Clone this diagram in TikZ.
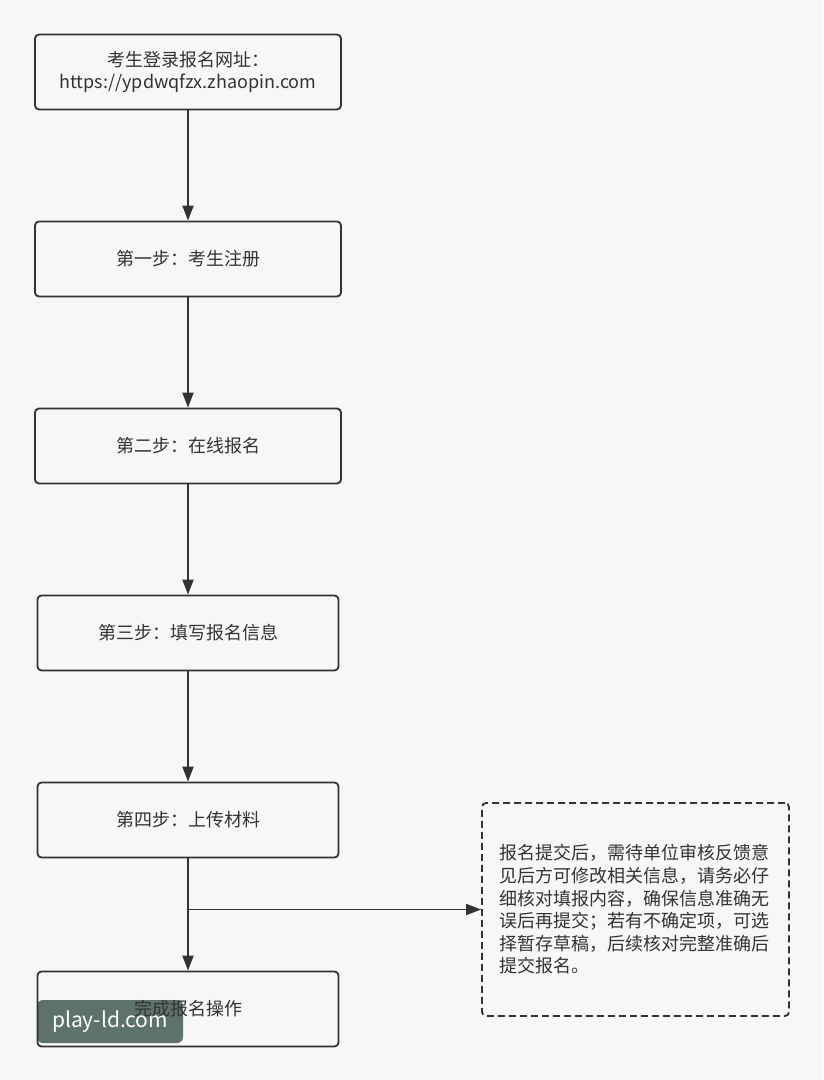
\documentclass[tikz,border=0pt]{standalone}
\usepackage{fontspec}
\setmainfont{Noto Sans CJK SC}
\usetikzlibrary{arrows.meta}
\definecolor{paper}{HTML}{F7F7F7}
\definecolor{ink}{HTML}{333333}
\definecolor{markgreen}{HTML}{5D7268}
\tikzset{
  stepbox/.style={draw=ink, line width=1.8pt, rounded corners=4pt, fill=paper,
    minimum width=306pt, minimum height=75pt, inner sep=0pt, align=center,
    text=ink, font=\fontsize{18}{22}\selectfont},
  notebox/.style={draw=ink, line width=1.8pt, dash pattern=on 7pt off 4pt,
    rounded corners=4pt, fill=paper, minimum width=307pt, minimum height=213pt,
    inner sep=0pt, text width=272pt, align=left, text=ink,
    font=\fontsize{18}{22.6}\selectfont},
  flow/.style={draw=ink, line width=1.8pt, -{Triangle[length=15pt,width=11pt]}},
  wmark/.style={fill=markgreen, rounded corners=6pt, minimum width=146pt,
    minimum height=43pt, inner sep=0pt, text=white, font=\fontsize{21}{24}\selectfont}
}
\begin{document}
\begin{tikzpicture}[x=1pt,y=-1pt]
      \fill[paper] (0,0) rectangle (823,1080);
      \node[stepbox] (0) at (188,72) {考生登录报名网址：\\https://ypdwqfzx.zhaopin.com};
      \node[stepbox] (1) at (188,259) {第一步：考生注册};
      \node[stepbox] (2) at (188,446) {第二步：在线报名};
      \node[stepbox, minimum width=301pt] (3) at (188,633) {第三步：填写报名信息};
      \node[stepbox, minimum width=301pt] (4) at (188,820) {第四步：上传材料};
      \node[wmark] (wm) at (110,1021.5) {play-ld.com};
      \node[stepbox, minimum width=301pt, fill=none] (5) at (188,1009) {完成报名操作};
      \node[notebox] (note) at (635.5,909.5) {报名提交后，需待单位审核反馈意\\见后方可修改相关信息，请务必仔\\细核对填报内容，确保信息准确无\\误后再提交；若有不确定项，可选\\择暂存草稿，后续核对完整准确后\\提交报名。};
      \coordinate (split) at (188,909.5);
      \begin{scope}[flow]
        \draw (0) to (1);
        \draw (1) to (2);
        \draw (2) to (3);
        \draw (3) to (4);
        \draw (4) to (5);
        \draw (split) to (note);
      \end{scope}
    \end{tikzpicture}
\end{document}
